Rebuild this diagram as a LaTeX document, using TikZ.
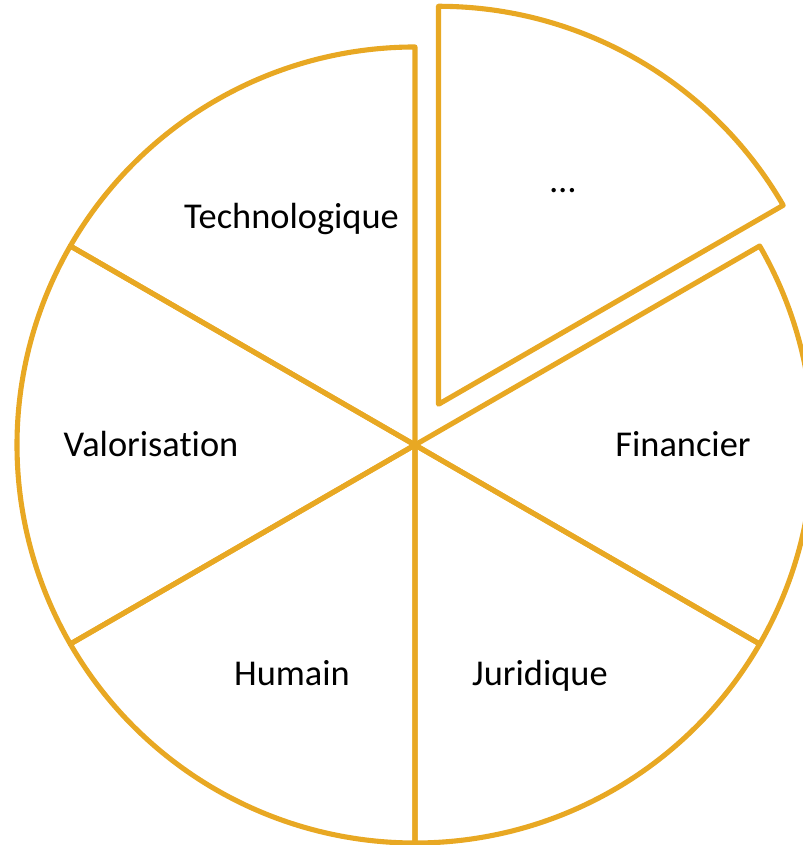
\documentclass[tikz,border=0pt]{standalone}
\usepackage{fontspec}
\setmainfont[Ligatures=NoCommon]{Carlito}
\usetikzlibrary{positioning}
\definecolor{pieline}{RGB}{232,168,35}

\begin{document}
\begin{tikzpicture}[
                slice/.style={draw=pieline,line width=2.9pt,line join=round},
                every node/.append style={anchor=base,inner sep=0pt,font=\fontsize{20.7}{24}\selectfont}
            ]
                \useasboundingbox (-8.3,-8.0) rectangle (7.74,8.9);
                % slices of the pie
                \foreach \a in {90,150,210,270}
                    \draw[slice] (0,0) -- (\a:7.96) arc[start angle=\a,end angle=\a+60,radius=7.96] -- cycle;
                \draw[slice] (0,0) -- (-30:7.96) arc[start angle=-30,end angle=30,radius=7.96] -- cycle;
                % the slice pulled out
                \draw[slice,shift={(60:0.94)}] (0,0) -- (30:7.96) arc[start angle=30,end angle=90,radius=7.96] -- cycle;
                \node (techno)  at (-2.47,4.32)  {Technologique};
                \node (autres)  at (2.96,5.04)   {\dots};
                \node (valo)    at (-5.28,-0.24) {Valorisation};
                \node (finance) at (5.36,-0.24)  {Financier};
                \node (humain)  at (-2.46,-4.8)  {Humain};
                \node (juri)    at (2.5,-4.8)    {Juridique};
            \end{tikzpicture}
\end{document}
